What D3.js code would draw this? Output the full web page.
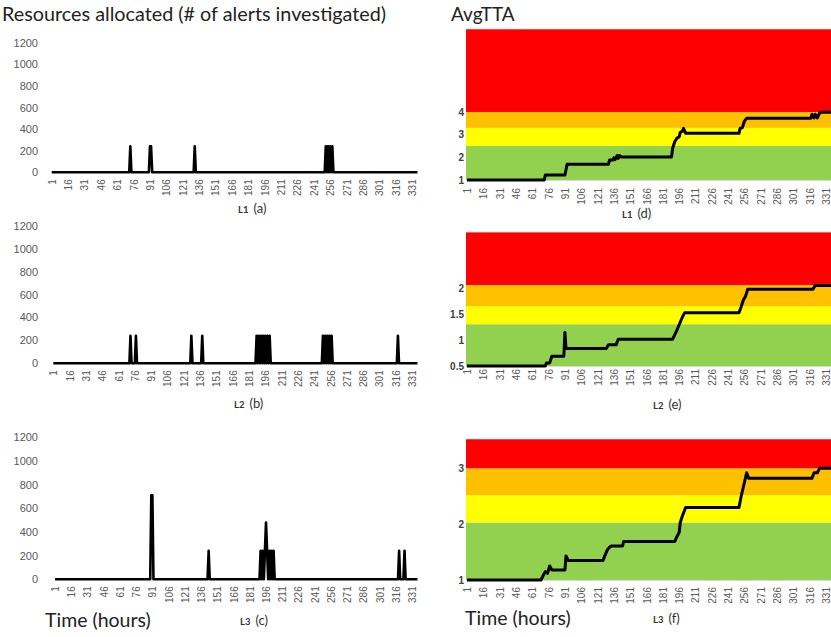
<!DOCTYPE html>
<html>
<head>
<meta charset="utf-8">
<script src="https://cdn.jsdelivr.net/npm/d3@7"></script>
<style>
  body { margin: 0; background: #fff; }
  svg { display: block; font-family: Lato, "Open Sans", sans-serif; }
</style>
</head>
<body>
<svg id="chart" width="831" height="637"></svg>
<script>
// hour ticks on every x axis
const hourTicks = d3.range(1, 332, 15);
const alertTicks = [0, 200, 400, 600, 800, 1000, 1200];

// resources allocated, [hour, alerts] break points of the line
const alertsL1 = [[1,0],[72,0],[73,240],[74,0],[90,0],[91,240],[92,240],[93,0],[131,0],[132,240],[133,0],
  [251,0],[252,240],[253,0],[254,240],[255,0],[256,240],[257,0],[258,240],[259,0],[336,0]];
const alertsL2 = [[1,0],[71,0],[72,240],[73,0],[76,0],[77,240],[78,0],[127,0],[128,240],[129,0],[137,0],[138,240],[139,0],
  [187,0],[188,240],[189,0],[190,240],[191,0],[192,240],[193,0],[194,240],[195,0],[196,240],[197,0],[198,240],[199,0],[200,240],[201,0],
  [248,0],[249,240],[250,0],[251,240],[252,0],[253,240],[254,0],[255,240],[256,0],[257,240],[258,0],
  [317,0],[318,240],[319,0],[336,0]];
const alertsL3 = [[1,0],[89,0],[90,710],[91,710],[92,0],[142,0],[143,240],[144,0],
  [190,0],[191,240],[192,0],[193,240],[194,0],[195,240],[196,480],[197,240],[198,0],[199,240],[200,0],[201,240],[202,0],[203,240],[204,0],
  [318,0],[319,240],[320,0],[323,0],[324,240],[325,0],[336,0]];

// AvgTTA, [hour, value] break points
const ttaL1 = [[1,1],[72,1],[73,1.22],[91,1.22],[92,1.45],[93,1.69],[131,1.69],[132,1.88],[135,1.88],[136,1.98],[137,1.9],
  [139,2.08],[140,1.95],[141,2.08],[143,2.02],[189,2.02],[190,2.4],[192,2.7],[194,2.85],[196,2.9],[197,3.1],[199,3.15],
  [200,3.28],[202,3.06],[251,3.06],[252,3.28],[254,3.3],[256,3.6],[258,3.72],[317,3.72],[318,3.9],[320,3.74],[321,3.9],
  [323,3.74],[325,3.95],[327,3.99],[336,3.99]];
const ttaL2 = [[1,0.5],[73,0.5],[74,0.56],[77,0.56],[79,0.69],[90,0.69],[91,1.15],[92,0.84],[129,0.84],[131,0.91],[138,0.91],
  [140,1.02],[190,1.02],[193,1.15],[196,1.3],[199,1.45],[201,1.53],[251,1.53],[253,1.65],[255,1.78],[257,1.85],[259,1.99],
  [319,1.99],[321,2.06],[336,2.06]];
const ttaL3 = [[1,1],[69,1],[71,1.08],[73,1.15],[75,1.12],[77,1.25],[79,1.18],[91,1.18],[92,1.43],[94,1.35],[126,1.35],
  [128,1.45],[130,1.54],[132,1.59],[134,1.61],[144,1.61],[145,1.69],[192,1.69],[194,1.78],[196,1.85],[197,2.03],[199,2.15],
  [202,2.3],[251,2.3],[253,2.5],[256,2.75],[258,2.92],[260,2.82],[318,2.82],[320,2.92],[323,2.92],[325,3.0],[336,3.0]];

// coloured band limits (green, yellow, orange, red)
const bandsL1 = [1, 2.5, 3.3, 4, 7.65];
const bandsL2 = [0.5, 1.31, 1.66, 2.07, 3.09];
const bandsL3 = [1, 2.03, 2.52, 3.0, 3.52];
const bandColors = ["#92d050", "#ffff00", "#ffc000", "#ff0000"];

const svg = d3.select("#chart");

function xAxisLabels(g, off) {
  g.select(".domain").remove();
  g.selectAll("text")
    .attr("transform", "rotate(-90)")
    .attr("x", -off).attr("y", 0).attr("dy", "0.35em")
    .style("text-anchor", "end")
    .style("font-size", "10px")
    .style("fill", "#595959");
}

function drawLeft(p, series) {
  const x = d3.scaleLinear().domain([1, 336]).range([p.x0, 417.5]);
  const y = d3.scaleLinear().domain([0, 1200]).range([p.yBottom, p.yTop]);

  svg.append("g")
    .attr("transform", "translate(41,0)")
    .call(d3.axisLeft(y).tickValues(alertTicks).tickSize(0).tickPadding(3).tickFormat(d3.format("d")))
    .call(g => g.select(".domain").remove())
    .selectAll("text").style("font-size", "11px").style("fill", "#595959");

  svg.append("g")
    .attr("transform", `translate(0,${p.yBottom})`)
    .call(d3.axisBottom(x).tickValues(hourTicks).tickSize(0))
    .call(g => xAxisLabels(g, 7));

  svg.append("path")
    .datum(series)
    .attr("fill", "none")
    .attr("stroke", "#000")
    .attr("stroke-width", 2.6)
    .attr("stroke-linejoin", "round")
    .attr("d", d3.line().x(d => x(d[0])).y(d => y(d[1])));
}

function drawRight(p, series, bands) {
  const x = d3.scaleLinear().domain([1, 336]).range([467, 831.5]);
  const y = d3.scaleLinear().domain(p.domain).range(p.range);

  svg.append("g").selectAll("rect")
    .data(bandColors)
    .join("rect")
    .attr("x", 466).attr("width", 831 - 466)
    .attr("y", (c, i) => y(bands[i + 1]))
    .attr("height", (c, i) => y(bands[i]) - y(bands[i + 1]))
    .attr("fill", c => c);

  svg.append("line")
    .attr("x1", 466).attr("x2", 831)
    .attr("y1", y(bands[0]) + 0.5).attr("y2", y(bands[0]) + 0.5)
    .attr("stroke", "#d9d9d9");

  svg.append("g")
    .attr("transform", "translate(466,0)")
    .call(d3.axisLeft(y).tickValues(p.ticks).tickSize(0).tickPadding(2).tickFormat(d3.format("")))
    .call(g => g.select(".domain").remove())
    .selectAll("text").style("font-size", "10px").style("font-weight", "bold").style("fill", "#404040");

  svg.append("g")
    .attr("transform", `translate(0,${y(bands[0])})`)
    .call(d3.axisBottom(x).tickValues(hourTicks).tickSize(0))
    .call(g => xAxisLabels(g, p.labelOff));

  svg.append("path")
    .datum(series)
    .attr("fill", "none")
    .attr("stroke", "#000")
    .attr("stroke-width", 3)
    .attr("stroke-linejoin", "round")
    .attr("d", d3.line().x(d => x(d[0])).y(d => y(d[1])));
}

drawLeft({ x0: 51.7, yBottom: 172.3, yTop: 42.7 }, alertsL1);
drawLeft({ x0: 53.3, yBottom: 363.3, yTop: 225.7 }, alertsL2);
drawLeft({ x0: 55, yBottom: 579.3, yTop: 437.3 }, alertsL3);

drawRight({ domain: [1, 4], range: [180, 112], ticks: [1, 2, 3, 4], labelOff: 8 }, ttaL1, bandsL1);
drawRight({ domain: [0.5, 2.07], range: [366, 285], ticks: [0.5, 1, 1.5, 2], labelOff: 3 }, ttaL2, bandsL2);
drawRight({ domain: [1, 3], range: [580, 468.3], ticks: [1, 2, 3], labelOff: 7 }, ttaL3, bandsL3);

// titles and panel captions
svg.append("text").attr("x", 2).attr("y", 21).style("font-size", "19.8px").style("fill", "#222")
  .text("Resources allocated (# of alerts investigated)");
svg.append("text").attr("x", 451).attr("y", 21).style("font-size", "19px").style("fill", "#222")
  .text("AvgTTA");

const captions = [
  { lab: "L1", tag: "(a)", x: 238, y: 213 },
  { lab: "L2", tag: "(b)", x: 234, y: 408 },
  { lab: "L3", tag: "(c)", x: 240, y: 625 },
  { lab: "L1", tag: "(d)", x: 622, y: 218 },
  { lab: "L2", tag: "(e)", x: 653, y: 409 },
  { lab: "L3", tag: "(f)", x: 653, y: 623 }
];
captions.forEach(c => {
  const t = svg.append("text").attr("x", c.x).attr("y", c.y).style("fill", "#333");
  t.append("tspan").style("font-size", "9.5px").style("font-weight", "bold").text(c.lab);
  t.append("tspan").attr("dx", 5).style("font-size", "13px").text(c.tag);
});

svg.append("text").attr("x", 45).attr("y", 627).style("font-size", "19.5px").style("fill", "#222").text("Time (hours)");
svg.append("text").attr("x", 465).attr("y", 625).style("font-size", "19.5px").style("fill", "#222").text("Time (hours)");
</script>
</body>
</html>
